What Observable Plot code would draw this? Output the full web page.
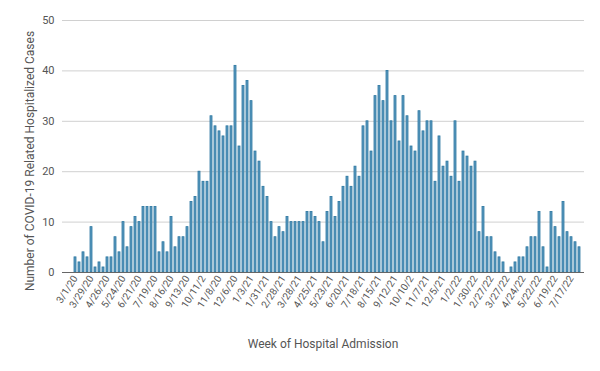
<!DOCTYPE html>
<html>
<head>
<meta charset="utf-8">
<script src="https://cdn.jsdelivr.net/npm/d3@7"></script>
<script src="https://cdn.jsdelivr.net/npm/@observablehq/plot@0.6"></script>
<style>
  html, body { margin: 0; padding: 0; background: #fff; }
</style>
</head>
<body>
<div id="chart"></div>
<script>
// Weekly COVID-19 related hospitalized cases, week starting 3/1/20
const cases = [
  3, 2, 4, 3, 9, 1, 2, 1, 3, 3, 7, 4, 10, 5, 9, 11, 10, 13, 13, 13, 13, 4, 6, 4, 11, 5, 7, 7, 9, 14, 15, 20, 18,
  18, 31, 29, 28, 27, 29, 29, 41, 25, 37, 38, 34, 24, 22, 17, 15, 10, 7, 9, 8, 11, 10, 10, 10, 10, 12, 12, 11, 10, 6, 12, 15, 11,
  14, 17, 19, 17, 21, 19, 29, 30, 24, 35, 37, 34, 40, 30, 35, 26, 35, 31, 25, 24, 32, 28, 30, 30, 18, 27, 21, 22, 19, 30, 18, 24, 23, 21, 22,
  8, 13, 7, 7, 4, 3, 2, 0, 1, 2, 3, 3, 5, 7, 7, 12, 5, 1, 12, 9, 7, 14, 8, 7, 6, 5
];

// Tick labels, one every 4 weeks (as printed in the original)
const tickLabels = [
  "3/1/20", "3/29/20", "4/26/20", "5/24/20", "6/21/20", "7/19/20", "8/16/20", "9/13/20",
  "10/11/2", "11/8/20", "12/6/20", "1/3/21", "1/31/21", "2/28/21", "3/28/21", "4/25/21",
  "5/23/21", "6/20/21", "7/18/21", "8/15/21", "9/12/21", "10/10/2", "11/7/21", "12/5/21",
  "1/2/22", "1/30/22", "2/27/22", "3/27/22", "4/24/22", "5/22/22", "6/19/22", "7/17/22"
];

const yTicks = [0, 10, 20, 30, 40, 50];
const yLabel = "Number of COVID-19 Related Hospitalized Cases";
const xLabel = "Week of Hospital Admission";

const start = new Date(Date.UTC(2020, 2, 1));
const fmt = d3.utcFormat("%-m/%-d/%y");
const weeks = cases.map((_, i) => fmt(d3.utcDay.offset(start, 7 * i)));
const data = cases.map((v, i) => ({ week: weeks[i], value: v }));
const tickWeeks = weeks.filter((_, i) => i % 4 === 0);

const chart = Plot.plot({
  width: 600,
  height: 371,
  marginLeft: 62,
  marginRight: 16,
  marginTop: 20,
  marginBottom: 99,
  style: { fontFamily: "Roboto, 'Liberation Sans', sans-serif", color: "#555", background: "#fff" },
  x: { type: "band", domain: weeks, padding: 0.45, paddingOuter: 0.76, align: 0.77 },
  y: { domain: [0, 50] },
  marks: [
    Plot.ruleY(yTicks.filter(d => d > 0), { stroke: "#d0d0d0", strokeWidth: 1 }),
    Plot.barY(data, { x: "week", y: "value", fill: "#5f9cc0", stroke: "#2a76a0", strokeWidth: 0.8 }),
    Plot.ruleY([0], { stroke: "#666", strokeWidth: 1 }),
    Plot.axisY({ ticks: yTicks, tickSize: 0, tickPadding: 8, fontSize: 11, label: null }),
    Plot.axisX({
      ticks: tickWeeks,
      tickFormat: d => tickLabels[weeks.indexOf(d) / 4],
      tickRotate: -57,
      tickSize: 0,
      tickPadding: 4,
      fontSize: 10,
      label: null
    })
  ]
});

const svg = d3.select(chart);
svg.append("text")
  .attr("transform", "translate(31,161) rotate(-90)")
  .attr("text-anchor", "middle")
  .attr("dominant-baseline", "middle")
  .attr("font-size", 12)
  .attr("fill", "#555")
  .text(yLabel);
svg.append("text")
  .attr("x", 323)
  .attr("y", 345)
  .attr("text-anchor", "middle")
  .attr("dominant-baseline", "middle")
  .attr("font-size", 12)
  .attr("fill", "#555")
  .text(xLabel);

document.getElementById("chart").appendChild(chart);
</script>
</body>
</html>
